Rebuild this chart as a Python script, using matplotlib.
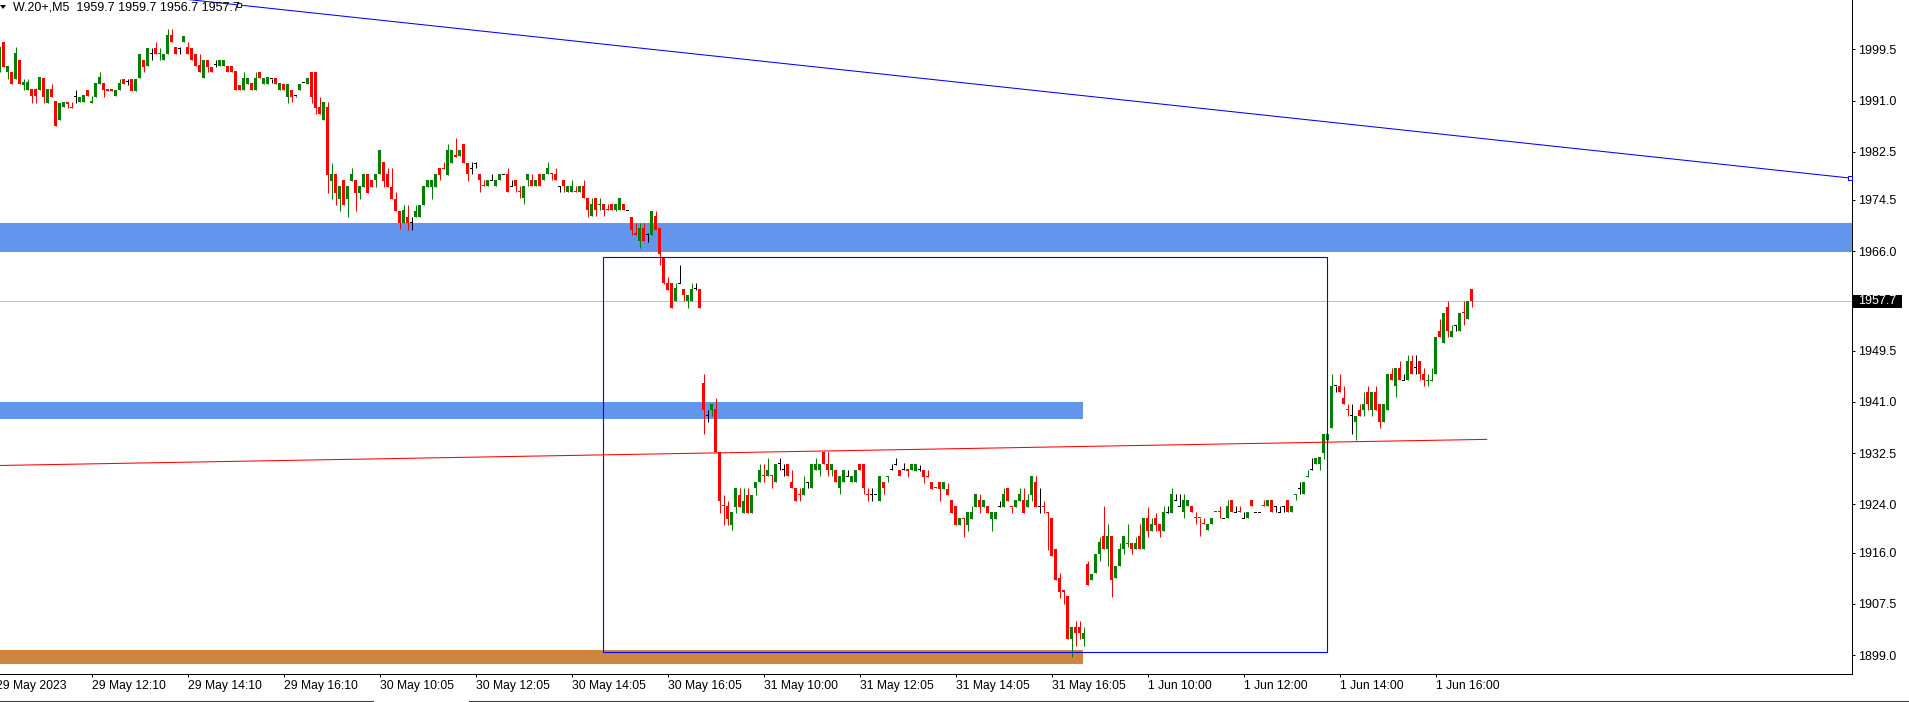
import numpy as np
import matplotlib.pyplot as plt
from matplotlib.patches import Rectangle, Polygon
from matplotlib.lines import Line2D
from matplotlib.transforms import blended_transform_factory

plt.rcParams['font.family'] = ['Liberation Sans', 'DejaVu Sans']

# W.20+ M5 candles, bar 1 .. 369 (bar index = position on the chart)
opens = [
    1995.8, 2000.7, 1995.8, 1995.8, 1994.5, 1997.8, 1993.6, 1992.8, 1992.9, 1992.9,
    1992.8, 1994.7, 1990.6, 1992.9, 1990.9, 1987.7, 1989.9, 1990.8, 1989.9, 1991.6,
    1990.8, 1990.8, 1992.8, 1990.6, 1991.6, 1993.7, 1993.9, 1992.9, 1992.9, 1991.8,
    1992.8, 1994.6, 1994.1, 1994.6, 1992.6, 1994.7, 1997.8, 1996.7, 1998.8, 1999.7,
    1998.7, 1997.7, 1998.7, 2001.8, 1999.8, 1999.7, 2000.7, 1999.8, 1999.7, 1998.7,
    1996.9, 1994.7, 1997.8, 1996.6, 1996.9, 1996.7, 1996.7, 1996.8, 1996.7, 1995.9,
    1993.6, 1992.8, 1993.7, 1993.9, 1992.8, 1995.7, 1993.7, 1993.7, 1994.6, 1994.7,
    1992.8, 1993.7, 1991.6, 1992.8, 1991.8, 1992.8, 1994.0, 1993.7, 1995.7, 1995.7,
    1990.0, 1987.7, 1990.0, 1977.7, 1978.8, 1974.7, 1977.8, 1974.7, 1977.7, 1977.8,
    1975.7, 1976.7, 1978.8, 1977.8, 1977.8, 1978.8, 1980.8, 1978.8, 1976.7, 1974.7,
    1972.6, 1970.6, 1971.7, 1970.8, 1971.7, 1971.7, 1973.7, 1976.7, 1976.7, 1976.7,
    1979.8, 1979.8, 1978.7, 1980.7, 1981.9, 1981.8, 1983.8, 1980.7, 1979.8, 1980.6,
    1978.8, 1976.9, 1976.8, 1977.8, 1976.8, 1977.8, 1978.8, 1978.8, 1976.8, 1977.8,
    1975.9, 1974.8, 1977.8, 1977.8, 1976.8, 1978.8, 1977.8, 1978.8, 1978.9, 1978.8,
    1976.8, 1977.8, 1975.8, 1975.8, 1975.9, 1975.8, 1976.8, 1974.8, 1971.8, 1974.8,
    1973.6, 1973.8, 1972.9, 1973.8, 1972.8, 1972.8, 1973.8, 1972.8, 1971.7, 1969.0,
    1967.7, 1969.8, 1968.7, 1968.7, 1971.8, 1969.8, 1965.0, 1960.7, 1960.7, 1957.8,
    1960.7, 1959.8, 1957.7, 1957.7, 1959.8, 1959.8, 1944.2, 1938.7, 1939.7, 1939.8,
    1932.7, 1923.8, 1923.7, 1920.6, 1923.6, 1925.6, 1922.6, 1925.6, 1922.6, 1926.7,
    1927.7, 1928.8, 1928.7, 1928.8, 1927.7, 1930.7, 1929.7, 1930.7, 1927.7, 1926.7,
    1925.7, 1925.6, 1927.7, 1926.7, 1929.7, 1929.7, 1932.7, 1930.7, 1929.7, 1929.7,
    1926.7, 1927.7, 1928.7, 1927.7, 1927.7, 1930.7, 1930.7, 1925.7, 1925.7, 1925.7,
    1924.6, 1927.7, 1928.5, 1929.7, 1930.6, 1929.7, 1929.7, 1929.9, 1929.7, 1929.6,
    1929.8, 1929.7, 1928.7, 1927.7, 1926.8, 1927.7, 1926.6, 1926.6, 1924.7, 1923.7,
    1920.6, 1921.8, 1920.6, 1921.6, 1923.6, 1924.7, 1923.6, 1923.7, 1921.6, 1921.6,
    1923.7, 1923.6, 1926.7, 1923.6, 1923.6, 1924.6, 1924.7, 1923.6, 1925.6, 1927.7,
    1923.7, 1923.8, 1922.7, 1921.7, 1916.6, 1911.7, 1909.8, 1908.8, 1901.6, 1903.7,
    1903.7, 1901.7, 1914.1, 1911.4, 1912.6, 1915.7, 1918.7, 1916.6, 1918.7, 1911.7,
    1913.7, 1916.6, 1917.4, 1917.6, 1916.6, 1918.7, 1916.6, 1921.7, 1919.6, 1921.7,
    1920.7, 1919.6, 1922.6, 1922.6, 1924.7, 1923.7, 1922.7, 1923.7, 1923.7, 1921.8,
    1921.8, 1920.8, 1919.7, 1920.7, 1922.8, 1922.8, 1921.7, 1921.7, 1924.7, 1922.7,
    1922.8, 1921.7, 1921.7, 1924.7, 1922.7, 1922.7, 1923.8, 1923.7, 1924.7, 1923.7,
    1922.7, 1923.7, 1924.7, 1922.7, 1925.6, 1926.7, 1925.7, 1928.6, 1929.7, 1930.7,
    1930.7, 1932.6, 1934.7, 1936.7, 1943.7, 1943.7, 1941.6, 1939.8, 1938.7, 1937.7,
    1939.7, 1939.7, 1942.6, 1939.7, 1942.6, 1940.6, 1937.7, 1939.7, 1945.6, 1943.7,
    1946.7, 1944.6, 1944.6, 1947.7, 1946.7, 1947.7, 1945.6, 1944.5, 1944.5, 1945.6,
    1952.7, 1950.7, 1956.7, 1951.7, 1953.7, 1952.7, 1955.8, 1954.7, 1959.7,
]
highs = [
    1999.8, 2000.7, 1996.7, 1995.8, 1999.8, 1997.8, 1994.6, 1994.6, 1992.9, 1993.0,
    1994.9, 1994.7, 1992.9, 1993.7, 1990.9, 1990.6, 1990.8, 1990.8, 1990.8, 1992.8,
    1991.6, 1991.9, 1992.8, 1991.8, 1993.9, 1995.8, 1993.9, 1992.9, 1992.9, 1992.8,
    1994.6, 1994.6, 1994.6, 1994.6, 1994.6, 1998.7, 1997.8, 1999.7, 1999.7, 2000.7,
    1999.7, 1998.7, 2002.8, 2002.8, 1999.8, 1999.8, 2001.7, 2000.7, 1999.7, 1998.7,
    1998.8, 1997.8, 1997.8, 1996.6, 1997.7, 1997.7, 1997.7, 1996.8, 1996.7, 1995.9,
    1993.6, 1995.7, 1994.7, 1993.9, 1995.7, 1995.7, 1994.7, 1994.9, 1994.6, 1994.7,
    1993.9, 1993.7, 1993.7, 1992.8, 1991.8, 1993.7, 1994.0, 1994.7, 1995.7, 1995.7,
    1991.6, 1990.8, 1990.8, 1980.7, 1978.8, 1976.8, 1977.8, 1976.8, 1979.8, 1977.8,
    1976.8, 1978.8, 1978.8, 1977.8, 1978.8, 1982.8, 1980.8, 1979.8, 1979.8, 1975.8,
    1972.6, 1973.7, 1973.7, 1971.7, 1973.7, 1973.7, 1976.8, 1977.8, 1977.8, 1978.8,
    1979.8, 1980.8, 1983.8, 1982.8, 1984.8, 1982.8, 1983.8, 1980.7, 1980.8, 1980.8,
    1978.8, 1977.8, 1977.8, 1978.8, 1977.8, 1978.8, 1978.8, 1979.8, 1977.8, 1977.8,
    1976.8, 1976.8, 1978.8, 1978.8, 1977.8, 1978.8, 1978.8, 1980.8, 1978.9, 1979.8,
    1976.8, 1977.8, 1976.8, 1977.8, 1976.8, 1976.8, 1977.8, 1974.8, 1974.8, 1974.8,
    1974.8, 1973.8, 1973.8, 1973.8, 1973.8, 1974.8, 1973.8, 1972.8, 1971.7, 1970.6,
    1970.7, 1970.7, 1969.0, 1972.6, 1972.6, 1969.8, 1965.0, 1961.7, 1960.7, 1960.7,
    1963.7, 1959.8, 1958.7, 1960.7, 1960.7, 1959.8, 1945.6, 1939.7, 1940.6, 1941.6,
    1932.7, 1925.6, 1924.6, 1922.7, 1926.7, 1926.7, 1926.7, 1926.7, 1925.6, 1927.7,
    1930.7, 1930.7, 1931.7, 1928.8, 1930.7, 1931.7, 1930.7, 1930.7, 1929.7, 1926.7,
    1926.7, 1928.7, 1927.7, 1930.7, 1931.7, 1930.7, 1932.7, 1932.7, 1930.7, 1929.7,
    1928.7, 1929.7, 1929.7, 1928.7, 1929.7, 1930.7, 1930.7, 1926.7, 1926.7, 1925.7,
    1928.7, 1927.7, 1928.7, 1930.7, 1931.7, 1929.7, 1930.8, 1929.9, 1930.7, 1930.7,
    1930.6, 1929.7, 1929.7, 1927.7, 1926.8, 1927.7, 1927.7, 1927.6, 1924.7, 1923.7,
    1921.7, 1921.8, 1922.7, 1923.7, 1925.7, 1925.7, 1924.7, 1923.7, 1922.7, 1922.7,
    1924.6, 1926.7, 1926.7, 1923.6, 1924.7, 1926.7, 1926.7, 1925.7, 1928.7, 1928.7,
    1926.7, 1924.6, 1922.7, 1921.7, 1916.6, 1912.6, 1909.8, 1908.8, 1903.7, 1904.7,
    1904.7, 1903.7, 1914.6, 1912.5, 1915.7, 1918.6, 1923.7, 1920.7, 1918.7, 1913.7,
    1917.6, 1918.7, 1920.7, 1917.6, 1918.6, 1920.7, 1921.7, 1923.6, 1921.7, 1922.6,
    1920.7, 1923.7, 1923.7, 1926.7, 1925.7, 1925.7, 1925.7, 1924.7, 1923.7, 1922.7,
    1921.8, 1921.7, 1920.7, 1921.7, 1922.8, 1923.7, 1921.7, 1924.7, 1924.7, 1923.7,
    1923.7, 1922.7, 1922.7, 1924.7, 1922.7, 1922.7, 1924.7, 1924.7, 1924.7, 1923.7,
    1923.7, 1923.7, 1924.7, 1923.7, 1925.7, 1927.7, 1927.7, 1929.7, 1931.7, 1931.7,
    1931.8, 1935.7, 1935.7, 1945.6, 1943.7, 1945.6, 1943.7, 1940.6, 1940.6, 1938.7,
    1940.6, 1942.7, 1943.7, 1942.7, 1943.7, 1940.6, 1940.6, 1945.6, 1946.7, 1946.7,
    1947.7, 1945.6, 1948.7, 1948.7, 1948.7, 1947.7, 1946.7, 1945.6, 1946.7, 1951.7,
    1954.7, 1955.7, 1957.7, 1953.7, 1953.7, 1955.7, 1957.7, 1957.7, 1959.7,
]
lows = [
    1995.8, 1996.6, 1994.6, 1993.8, 1994.5, 1993.8, 1992.8, 1992.8, 1990.6, 1990.6,
    1992.8, 1990.6, 1990.6, 1991.6, 1986.7, 1987.7, 1989.9, 1989.7, 1989.7, 1990.6,
    1990.8, 1990.8, 1991.8, 1990.6, 1991.6, 1993.7, 1991.6, 1992.6, 1992.6, 1991.8,
    1992.8, 1993.7, 1993.6, 1992.6, 1992.6, 1994.7, 1995.8, 1996.7, 1997.7, 1998.7,
    1997.8, 1997.7, 1998.7, 2000.7, 1998.7, 1998.8, 2000.7, 1998.7, 1997.7, 1996.7,
    1995.7, 1994.7, 1995.8, 1995.7, 1996.6, 1996.7, 1996.7, 1995.7, 1995.7, 1992.8,
    1992.8, 1992.8, 1993.7, 1992.8, 1992.8, 1994.7, 1993.7, 1993.7, 1993.9, 1993.7,
    1992.8, 1992.8, 1990.6, 1990.8, 1991.6, 1992.8, 1994.0, 1993.7, 1990.6, 1988.8,
    1988.8, 1987.7, 1975.7, 1974.6, 1973.7, 1972.6, 1973.6, 1971.7, 1977.7, 1972.6,
    1974.7, 1976.7, 1975.7, 1976.7, 1976.7, 1978.8, 1976.7, 1976.7, 1974.7, 1972.6,
    1969.7, 1970.6, 1969.5, 1969.5, 1971.7, 1971.7, 1973.7, 1976.7, 1974.7, 1976.7,
    1977.8, 1979.7, 1978.7, 1980.7, 1981.7, 1981.8, 1980.7, 1977.7, 1978.8, 1979.8,
    1975.8, 1976.8, 1976.8, 1977.8, 1976.8, 1977.8, 1978.8, 1975.8, 1976.8, 1975.8,
    1974.8, 1973.8, 1976.8, 1976.8, 1976.8, 1976.8, 1977.8, 1978.8, 1977.8, 1977.8,
    1975.8, 1975.8, 1975.8, 1975.8, 1975.8, 1975.8, 1974.8, 1971.7, 1971.8, 1971.8,
    1972.8, 1971.8, 1972.8, 1972.8, 1972.6, 1972.8, 1972.8, 1972.8, 1968.7, 1968.7,
    1966.6, 1967.7, 1967.6, 1968.7, 1969.6, 1963.7, 1960.6, 1959.6, 1956.6, 1957.8,
    1960.7, 1957.7, 1956.6, 1957.7, 1959.6, 1956.6, 1935.6, 1937.7, 1938.7, 1932.7,
    1922.6, 1920.6, 1920.6, 1919.7, 1922.6, 1923.6, 1922.6, 1922.6, 1922.6, 1925.6,
    1927.7, 1927.7, 1928.7, 1926.7, 1927.7, 1929.7, 1928.7, 1928.7, 1926.7, 1924.6,
    1924.6, 1925.6, 1926.7, 1926.7, 1929.7, 1928.7, 1930.7, 1928.7, 1928.7, 1927.7,
    1925.7, 1927.7, 1928.7, 1927.7, 1927.7, 1929.7, 1925.7, 1924.6, 1924.6, 1925.7,
    1924.6, 1925.7, 1927.7, 1929.7, 1930.6, 1928.7, 1929.7, 1928.6, 1929.7, 1929.6,
    1929.6, 1927.6, 1928.6, 1926.6, 1926.7, 1924.6, 1926.6, 1925.6, 1922.6, 1920.6,
    1920.6, 1918.6, 1919.6, 1921.6, 1923.6, 1922.6, 1923.6, 1922.6, 1919.6, 1921.6,
    1923.6, 1923.6, 1924.6, 1922.6, 1923.6, 1924.6, 1922.6, 1923.6, 1924.6, 1923.6,
    1922.6, 1922.6, 1916.4, 1915.4, 1911.4, 1908.5, 1907.5, 1901.7, 1898.6, 1900.5,
    1901.6, 1900.5, 1910.6, 1911.4, 1912.6, 1914.6, 1916.6, 1913.7, 1908.7, 1911.7,
    1913.7, 1915.7, 1917.0, 1915.7, 1916.6, 1916.6, 1916.6, 1918.6, 1919.6, 1919.6,
    1918.6, 1919.6, 1922.6, 1922.6, 1924.7, 1923.7, 1921.7, 1923.7, 1922.7, 1920.7,
    1918.7, 1920.7, 1919.7, 1920.7, 1922.7, 1921.7, 1921.7, 1921.7, 1922.7, 1922.7,
    1922.7, 1921.7, 1921.7, 1923.7, 1922.7, 1922.7, 1923.7, 1923.7, 1922.7, 1922.7,
    1922.7, 1922.7, 1922.7, 1922.7, 1924.7, 1925.7, 1925.7, 1928.6, 1929.7, 1930.7,
    1929.7, 1931.6, 1934.7, 1936.7, 1942.7, 1942.7, 1940.6, 1938.7, 1935.6, 1934.7,
    1938.7, 1938.7, 1939.7, 1938.7, 1939.7, 1936.7, 1937.7, 1939.7, 1944.6, 1941.8,
    1944.6, 1944.6, 1944.6, 1945.6, 1945.6, 1944.6, 1943.6, 1943.6, 1944.5, 1945.6,
    1951.7, 1950.7, 1951.7, 1951.7, 1952.7, 1952.7, 1953.7, 1954.7, 1956.7,
]
closes = [
    1999.8, 1996.6, 1996.7, 1993.8, 1998.9, 1993.8, 1994.0, 1994.0, 1991.8, 1991.8,
    1994.9, 1991.6, 1992.9, 1991.6, 1986.8, 1990.6, 1990.8, 1990.5, 1989.7, 1991.6,
    1991.6, 1991.9, 1991.8, 1990.9, 1993.9, 1994.9, 1992.8, 1992.6, 1992.6, 1992.8,
    1993.9, 1993.7, 1994.1, 1992.6, 1994.6, 1998.7, 1996.6, 1999.7, 1998.8, 1998.7,
    1998.9, 1998.7, 2001.9, 2000.7, 1998.7, 1999.7, 2001.7, 1998.7, 1997.7, 1996.7,
    1995.7, 1997.8, 1996.6, 1995.7, 1996.9, 1997.7, 1997.7, 1995.7, 1995.7, 1992.8,
    1992.8, 1994.7, 1994.7, 1992.8, 1994.7, 1994.7, 1994.7, 1994.9, 1994.6, 1993.7,
    1993.9, 1992.8, 1993.7, 1991.6, 1991.8, 1993.7, 1994.0, 1994.7, 1991.6, 1989.7,
    1988.8, 1990.8, 1978.7, 1978.8, 1975.7, 1976.8, 1973.7, 1976.8, 1978.8, 1975.7,
    1976.8, 1978.8, 1975.7, 1976.7, 1978.8, 1982.8, 1977.7, 1976.7, 1974.7, 1972.6,
    1970.6, 1972.8, 1970.6, 1970.8, 1972.7, 1973.7, 1976.8, 1977.8, 1977.8, 1978.8,
    1978.7, 1979.7, 1982.8, 1982.8, 1981.7, 1982.8, 1980.7, 1978.8, 1979.8, 1980.6,
    1977.8, 1976.8, 1977.8, 1977.8, 1977.8, 1978.8, 1978.8, 1975.8, 1976.8, 1976.8,
    1975.8, 1976.8, 1978.8, 1976.8, 1977.8, 1976.8, 1978.8, 1979.8, 1978.8, 1977.8,
    1976.8, 1976.8, 1976.8, 1976.8, 1975.8, 1976.8, 1974.8, 1972.8, 1973.8, 1972.8,
    1973.8, 1972.8, 1972.8, 1972.8, 1973.8, 1974.8, 1972.8, 1972.8, 1969.6, 1968.7,
    1969.8, 1967.7, 1968.7, 1972.6, 1969.6, 1965.6, 1960.7, 1959.6, 1956.6, 1959.9,
    1960.7, 1958.7, 1958.7, 1959.8, 1959.8, 1956.6, 1939.7, 1938.7, 1940.6, 1932.7,
    1924.6, 1923.7, 1921.6, 1922.7, 1926.7, 1923.6, 1924.6, 1922.6, 1925.6, 1927.7,
    1929.7, 1928.7, 1929.7, 1928.7, 1930.7, 1930.7, 1929.7, 1928.7, 1926.7, 1924.6,
    1925.6, 1926.7, 1927.7, 1930.7, 1930.7, 1930.7, 1930.7, 1929.7, 1930.7, 1927.7,
    1928.7, 1929.7, 1928.7, 1928.7, 1929.7, 1929.7, 1926.7, 1925.6, 1925.7, 1925.7,
    1928.7, 1926.7, 1928.7, 1929.7, 1930.6, 1928.7, 1929.7, 1929.6, 1930.7, 1930.7,
    1929.8, 1928.6, 1928.6, 1926.6, 1926.7, 1926.6, 1927.7, 1925.6, 1922.6, 1920.6,
    1921.7, 1921.6, 1922.7, 1922.7, 1925.7, 1923.6, 1924.7, 1922.6, 1922.7, 1922.7,
    1923.7, 1925.7, 1924.6, 1923.5, 1924.7, 1925.7, 1922.6, 1924.7, 1928.7, 1923.6,
    1923.7, 1923.6, 1922.6, 1915.4, 1911.4, 1909.5, 1909.5, 1901.7, 1903.7, 1902.6,
    1902.6, 1902.7, 1910.6, 1912.5, 1915.7, 1917.7, 1916.6, 1918.7, 1911.5, 1913.7,
    1916.6, 1918.7, 1917.6, 1916.6, 1917.6, 1916.6, 1921.7, 1919.6, 1920.7, 1920.6,
    1919.6, 1922.7, 1922.6, 1925.7, 1924.7, 1923.7, 1924.7, 1924.7, 1922.7, 1921.7,
    1921.7, 1920.7, 1920.7, 1921.7, 1922.7, 1922.7, 1921.7, 1923.7, 1922.7, 1922.7,
    1922.7, 1921.7, 1922.7, 1923.7, 1922.7, 1922.7, 1923.7, 1924.7, 1922.7, 1923.7,
    1922.7, 1923.7, 1922.7, 1923.7, 1925.7, 1926.7, 1927.7, 1928.7, 1929.7, 1931.7,
    1931.8, 1935.7, 1935.7, 1943.7, 1943.7, 1942.7, 1940.6, 1939.7, 1938.7, 1938.7,
    1938.7, 1940.6, 1940.6, 1942.7, 1939.7, 1937.7, 1940.6, 1945.6, 1944.6, 1946.7,
    1944.6, 1944.6, 1947.7, 1945.6, 1946.7, 1945.6, 1944.6, 1944.6, 1944.6, 1951.7,
    1951.7, 1955.7, 1952.7, 1952.7, 1953.7, 1955.7, 1955.7, 1957.7, 1957.7,
]

# time axis labels, one every 24 bars (bar 0 is just off the left edge)
tick_bars = [0, 24, 48, 72, 96, 120, 144, 168, 192, 216, 240, 264, 288, 312, 336, 360]
tick_labels = ["29 May 2023", "29 May 12:10", "29 May 14:10", "29 May 16:10",
               "30 May 10:05", "30 May 12:05", "30 May 14:05", "30 May 16:05",
               "31 May 10:00", "31 May 12:05", "31 May 14:05", "31 May 16:05",
               "1 Jun 10:00", "1 Jun 12:00", "1 Jun 14:00", "1 Jun 16:00"]
price_ticks = [1999.5, 1991.0, 1982.5, 1974.5, 1966.0, 1949.5, 1941.0,
               1932.5, 1924.0, 1916.0, 1907.5, 1899.0]
last_price = 1957.7
header = "W.20+,M5  1959.7 1959.7 1956.7 1957.7"

# drawn objects
zone_upper = (1965.9, 1970.7)
zone_mid = (1938.2, 1941.0)
zone_low = (1897.5, 1899.8)
zone_end = 271.9
box_x = (151.95, 332.95)
box_y = (1899.45, 1965.0)
trend_x = [60.9, 463.6]
trend_y = [2006.85, 1978.14]
red_x = [1.125, 372.8]
red_y = [1930.45, 1934.78]

W, H = 1909, 702
fig = plt.figure(figsize=(W / 100, H / 100), dpi=100)
fig.patch.set_facecolor('white')
ax = fig.add_axes([0, 28 / H, 1852 / W, 674 / H])
xmin, xmax = 1.125, 464.125
ax.set_xlim(xmin, xmax)
ax.set_ylim(1895.85, 2007.68)

o = np.array(opens); h = np.array(highs); l = np.array(lows); c = np.array(closes)
n = min(len(o), len(h), len(l), len(c))
o, h, l, c = o[:n], h[:n], l[:n], c[:n]
x = np.arange(1, n + 1)
cols = np.where(c > o, '#008000', np.where(c < o, '#FF0000', '#000000'))
top = np.maximum(h, np.maximum(o, c))
bot = np.minimum(l, np.minimum(o, c))
ax.vlines(x, bot, top, colors=cols, lw=0.72, zorder=3)
body = np.maximum(np.abs(c - o), 0.17)
base = np.where(c == o, o - 0.085, np.minimum(o, c))
ax.bar(x, body, width=0.75, bottom=base, color=cols, linewidth=0, zorder=3)

# zones
ax.add_patch(Rectangle((xmin - 5, zone_upper[0]), xmax + 10, zone_upper[1] - zone_upper[0],
                       facecolor='#6495ED', edgecolor='none', zorder=1))
ax.add_patch(Rectangle((xmin - 5, zone_mid[0]), zone_end - xmin + 5, zone_mid[1] - zone_mid[0],
                       facecolor='#6495ED', edgecolor='none', zorder=1))
ax.add_patch(Rectangle((xmin - 5, zone_low[0]), zone_end - xmin + 5, zone_low[1] - zone_low[0],
                       facecolor='#CD853F', edgecolor='none', zorder=1))

ax.axhline(last_price, color='#C0C0C0', lw=0.72, zorder=1.5)

ax.add_patch(Rectangle((box_x[0], box_y[0]), box_x[1] - box_x[0], box_y[1] - box_y[0],
                       fill=False, edgecolor='#0000FF', lw=0.8, zorder=4))

slope = (trend_y[1] - trend_y[0]) / (trend_x[1] - trend_x[0])
ax.plot([0, trend_x[1]], [trend_y[0] + slope * (0 - trend_x[0]), trend_y[1]],
        color='#0000FF', lw=0.75, zorder=4)
ax.plot(trend_x, trend_y, ls='none', marker='s', ms=3, mfc='white', mec='#0000FF',
        mew=0.7, zorder=5, clip_on=False)
ax.plot(red_x, red_y, color='#FF0000', lw=0.75, zorder=4)

# axes look
for s in ['left', 'top']:
    ax.spines[s].set_visible(False)
for s in ['right', 'bottom']:
    ax.spines[s].set_linewidth(0.72)
ax.yaxis.tick_right()
ax.set_yticks(price_ticks)
ax.set_yticklabels([f"{v:.1f}" for v in price_ticks])
ax.tick_params(axis='y', direction='out', length=2.2, width=0.72, pad=2.2, labelsize=9)
ax.set_xticks(tick_bars[1:])
ax.set_xticklabels(tick_labels[1:], ha='left')
ax.tick_params(axis='x', direction='out', length=2.2, width=0.72, pad=1.8, labelsize=8.7)
ax.annotate(tick_labels[0], xy=(tick_bars[0], 0), xycoords=('data', 'axes fraction'),
            xytext=(0, -4.0), textcoords='offset points', ha='left', va='top',
            fontsize=8.7, annotation_clip=False)

# last price tag
tr = blended_transform_factory(ax.transAxes, ax.transData)
ax.add_patch(Rectangle((1 + 1 / 1852, last_price - 1.08), 49 / 1852, 2.16, transform=tr,
                       facecolor='black', edgecolor='none', clip_on=False, zorder=6))
ax.text(1 + 6 / 1852, last_price, f"{last_price:.1f}", transform=tr, color='white',
        fontsize=9, ha='left', va='center', zorder=7, clip_on=False)

# header
fig.text(13 / W, 1 - 11 / H, header, fontsize=9, ha='left', va='baseline', zorder=10)
fig.add_artist(Polygon([(0, 1 - 5 / H), (6 / W, 1 - 5 / H), (3 / W, 1 - 9 / H)],
                       closed=True, facecolor='black', edgecolor='none',
                       transform=fig.transFigure))

# tab strip border at the bottom of the window
fig.add_artist(Line2D([0, 373 / W], [1.5 / H, 1.5 / H], color='#404040', lw=0.8,
                      transform=fig.transFigure))
fig.add_artist(Line2D([469 / W, 1], [1.5 / H, 1.5 / H], color='#404040', lw=0.8,
                      transform=fig.transFigure))

fig.savefig('out.png', dpi=100, facecolor='white')
